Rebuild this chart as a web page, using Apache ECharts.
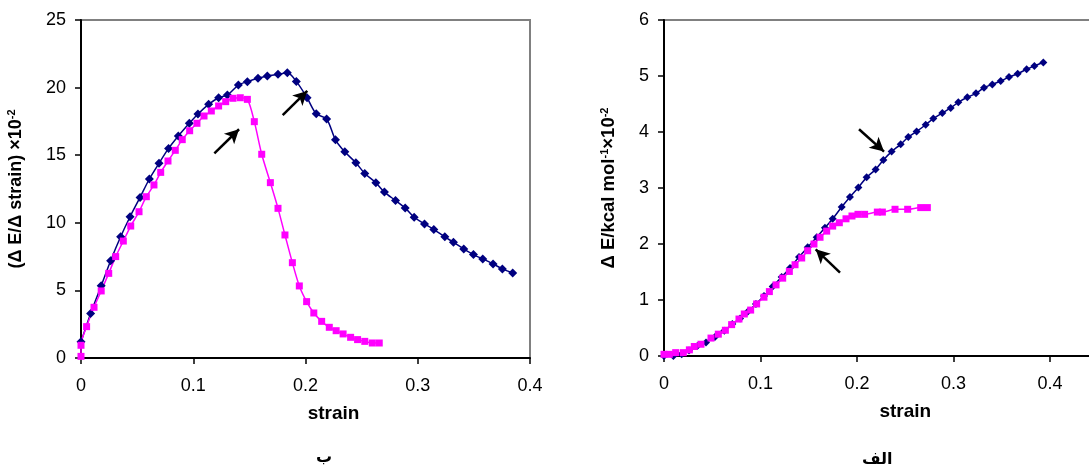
<!DOCTYPE html>
<html>
<head>
<meta charset="utf-8">
<script src="https://cdn.jsdelivr.net/npm/echarts@6/dist/echarts.min.js"></script>
<style>html,body{margin:0;padding:0;background:#fff}#c{width:1089px;height:470px}</style>
</head>
<body>
<div id="c"></div>
<script>
// Left chart (ب): dE/d(strain)
const leftBlueX = [0,0.0086,0.018,0.0264,0.0353,0.0437,0.0526,0.0609,0.0695,0.078,0.0867,0.0965,0.1042,0.1137,0.1226,0.1304,0.1402,0.1482,0.1577,0.166,0.1755,0.1838,0.1918,0.2014,0.2096,0.2188,0.2267,0.235,0.2449,0.2528,0.2627,0.2703,0.2802,0.2888,0.2968,0.306,0.3143,0.3241,0.3318,0.341,0.3496,0.3579,0.3671,0.3754,0.3846];
const leftBlueY = [1.2,3.3,5.35,7.2,8.97,10.45,11.88,13.24,14.4,15.5,16.42,17.36,18.05,18.76,19.25,19.45,20.19,20.44,20.69,20.86,20.98,21.1,20.46,19.25,18.06,17.68,16.14,15.25,14.44,13.65,12.96,12.27,11.65,11.1,10.41,9.92,9.5,8.96,8.56,8.07,7.65,7.33,6.96,6.59,6.29];
const leftPinkX = [0,0,0.005,0.0116,0.018,0.0247,0.0309,0.0377,0.0443,0.0517,0.0582,0.065,0.071,0.0775,0.084,0.0902,0.0968,0.1033,0.1096,0.1161,0.1226,0.1289,0.1354,0.1419,0.1482,0.1544,0.161,0.1687,0.1755,0.1817,0.1883,0.1945,0.201,0.2074,0.2144,0.2212,0.2273,0.2335,0.2402,0.2464,0.2528,0.2595,0.2657];
const leftPinkY = [0.12,0.94,2.32,3.75,4.96,6.26,7.5,8.65,9.76,10.82,11.93,12.8,13.73,14.57,15.36,16.15,16.81,17.36,17.9,18.27,18.64,18.96,19.21,19.25,19.13,17.48,15.07,12.97,11.07,9.1,7.05,5.33,4.17,3.33,2.71,2.27,2.02,1.78,1.53,1.36,1.23,1.11,1.11];

// Right chart (الف): dE (kcal/mol x10^-2)
const rightBlueX = [0,0.0097,0.0183,0.0259,0.0345,0.0435,0.0528,0.0625,0.0708,0.0788,0.0867,0.0953,0.1036,0.1126,0.1219,0.1306,0.1399,0.1489,0.1582,0.1668,0.1748,0.1841,0.1927,0.2014,0.21,0.2193,0.2273,0.2359,0.2453,0.2532,0.2618,0.2712,0.2791,0.2884,0.2971,0.305,0.3143,0.3233,0.3316,0.3402,0.3489,0.3575,0.3665,0.3758,0.3838,0.3931];
const rightBlueY = [0,0,0.03,0.1,0.18,0.24,0.34,0.45,0.57,0.67,0.79,0.93,1.07,1.24,1.41,1.57,1.77,1.94,2.12,2.29,2.45,2.66,2.84,3.01,3.19,3.33,3.5,3.65,3.78,3.91,4.01,4.13,4.24,4.34,4.43,4.53,4.62,4.69,4.79,4.85,4.91,4.98,5.04,5.12,5.18,5.24];
const rightPinkX = [0,0.0055,0.0121,0.02,0.0263,0.0314,0.0383,0.0487,0.0563,0.0636,0.0701,0.0777,0.0832,0.0898,0.096,0.1036,0.1092,0.1161,0.123,0.1299,0.1358,0.1427,0.1489,0.1554,0.1617,0.1686,0.1748,0.1817,0.1886,0.1948,0.201,0.2079,0.2211,0.2263,0.2394,0.2525,0.266,0.2729];
const rightPinkY = [0.03,0.03,0.06,0.06,0.11,0.17,0.21,0.32,0.39,0.46,0.56,0.66,0.75,0.82,0.93,1.05,1.15,1.27,1.39,1.51,1.63,1.75,1.88,2.0,2.12,2.23,2.32,2.38,2.45,2.5,2.53,2.53,2.57,2.57,2.62,2.62,2.65,2.65];

const xTicks = [0,0.1,0.2,0.3,0.4,0.5];
const leftYTicks = [0,5,10,15,20,25];
const rightYTicks = [0,1,2,3,4,5,6];

// Arrow annotations [tail, head] in data units
const leftArrows = [[[0.1188,15.14],[0.1408,16.92]],[[0.1797,17.97],[0.2016,19.75]]];
const rightArrows = [[[0.2021,4.05],[0.228,3.65]],[[0.1824,1.49],[0.1572,1.905]]];

const zip = (a,b) => a.map((v,i)=>[v,b[i]]);
const FONT = 'Liberation Sans';
const NAVY = '#000080', MAG = '#FF00FF';

function xAxis(gi, max){
  return {type:'value', gridIndex:gi, min:0, max:max, interval:0.1,
    name:'strain', nameLocation:'middle', nameGap:46,
    nameTextStyle:{fontFamily:FONT,fontWeight:'bold',fontSize:19,color:'#000', padding: gi===0?[0,0,0,56]:[0,0,0,0]},
    axisLine:{show:true,onZero:false,lineStyle:{color:'#000',width:2}},
    axisTick:{show:true,inside:false,length:6,lineStyle:{color:'#000',width:1.5}},
    axisLabel:{fontFamily:FONT,fontSize:18,color:'#000',margin:19,
      formatter:v=> xTicks.includes(Math.round(v*10)/10) ? String(Math.round(v*10)/10) : ''},
    splitLine:{show:false}};
}
function yAxis(gi, max, interval, rich, nameGap, fs){
  return {type:'value', gridIndex:gi, min:0, max:max, interval:interval,
    name:rich, nameLocation:'middle', nameGap:nameGap, nameRotate:90,
    nameTextStyle:{fontFamily:FONT,fontWeight:'bold',fontSize:fs,color:'#000',
      rich:{b:{fontFamily:FONT,fontWeight:'bold',fontSize:fs,color:'#000'},
            s:{fontFamily:FONT,fontWeight:'bold',fontSize:11,color:'#000',verticalAlign:'top',padding:[0,0,9,0]}}},
    axisLine:{show:true,onZero:false,lineStyle:{color:'#000',width:2}},
    axisTick:{show:true,inside:false,length:6,lineStyle:{color:'#000',width:1.5}},
    axisLabel:{fontFamily:FONT,fontSize:18,color:'#000',margin:15},
    splitLine:{show:false}};
}
function arrowLine(arrs){
  return {silent:true, animation:false, symbol:['none','arrow'], symbolSize:[11,14],
    lineStyle:{color:'#000',width:2.5,type:'solid'}, label:{show:false},
    data: arrs.map(a=>[{coord:a[0]},{coord:a[1]}])};
}
function line(gi, data, color, symbol, size, ml){
  const s = {type:'line', xAxisIndex:gi, yAxisIndex:gi, data:data, smooth:0.3,
    symbol:symbol, symbolSize:size, showSymbol:true,
    lineStyle:{color:color,width:1.5}, itemStyle:{color:color}, animation:false};
  if(ml) s.markLine = ml;
  return s;
}

const chart = echarts.init(document.getElementById('c'), null, {renderer:'canvas'});
chart.setOption({
  backgroundColor:'#fff',
  animation:false,
  grid:[
    {left:81, top:20, width:449, height:338, show:true, borderColor:'#808080', borderWidth:2, backgroundColor:'transparent', containLabel:false, outerBoundsMode:'none'},
    {left:664, top:20, width:482.5, height:336, show:true, borderColor:'#808080', borderWidth:2, backgroundColor:'transparent', containLabel:false, outerBoundsMode:'none'}
  ],
  xAxis:[xAxis(0,0.4), xAxis(1,0.5)],
  yAxis:[
    yAxis(0,25,5,'{b|(Δ E/Δ strain) ×10}{s|-2}',55,18),
    yAxis(1,6,1,'{b|Δ E/kcal mol}{s|-1}{b|×10}{s|-2}',45,18.5)
  ],
  series:[
    line(0, zip(leftBlueX,leftBlueY), NAVY, 'diamond', 9, arrowLine(leftArrows)),
    line(0, zip(leftPinkX,leftPinkY), MAG, 'rect', 7),
    line(1, zip(rightBlueX,rightBlueY), NAVY, 'diamond', 8, arrowLine(rightArrows)),
    line(1, zip(rightPinkX,rightPinkY), MAG, 'rect', 7)
  ],
  graphic:[
    {type:'text', left:316, top:450, style:{text:'ب', font:'bold 16px "DejaVu Sans"', fill:'#000'}},
    {type:'text', left:862, top:452, style:{text:'الف', font:'bold 16px "DejaVu Sans"', fill:'#000'}}
  ]
});
</script>
</body>
</html>
